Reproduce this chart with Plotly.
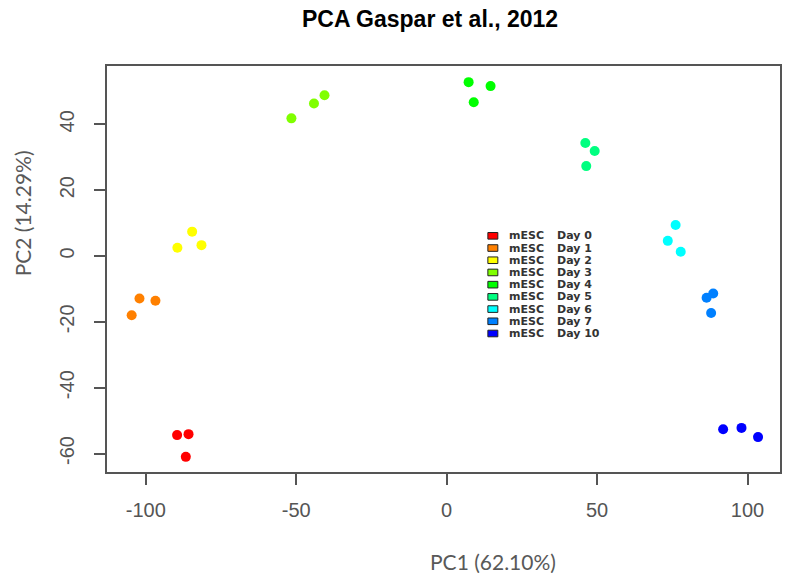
import plotly.graph_objects as go

# ---- data ----
days = ["Day 0", "Day 1", "Day 2", "Day 3", "Day 4", "Day 5", "Day 6", "Day 7", "Day 10"]
colors = ["#FF0000", "#FF8000", "#FFFF00", "#80FF00", "#00FF00",
          "#00FF80", "#00FFFF", "#0080FF", "#0000FF"]
pc1 = [[-89.6, -85.8, -86.7], [-104.7, -102.1, -96.8], [-89.5, -84.6, -81.5],
       [-51.6, -44.1, -40.6], [7.3, 14.6, 9.0], [46.1, 49.2, 46.4],
       [76.1, 73.5, 77.8], [86.4, 88.6, 87.9], [91.9, 98.0, 103.5]]
pc2 = [[-54.4, -54.1, -61.0], [-18.0, -12.9, -13.6], [2.5, 7.4, 3.3],
       [41.8, 46.3, 48.8], [52.8, 51.6, 46.7], [34.3, 31.9, 27.3],
       [9.4, 4.6, 1.3], [-12.7, -11.4, -17.3], [-52.6, -52.2, -55.0]]
x_ticks = [-100, -50, 0, 50, 100]
y_ticks = [-60, -40, -20, 0, 20, 40]
x_ticklabels = ["-100", "-50", "0", "50", "100"]
y_ticklabels = ["-60", "-40", "-20", "0", "20", "40"]
title = "PCA Gaspar et al., 2012"
x_title = "PC1 (62.10%)"
y_title = "PC2 (14.29%)"

# ---- layout geometry (pixels) ----
W, H = 787, 573
L, R, T, B = 107, 782, 66, 471.7
pw, ph = R - L, B - T


def px(x):
    return (x - L) / pw


def py(y):
    return (B - y) / ph


fig = go.Figure()
for d, c, xs, ys in zip(days, colors, pc1, pc2):
    fig.add_trace(go.Scatter(x=xs, y=ys, mode="markers", name="mESC " + d,
                             marker=dict(color=c, size=10, line=dict(width=0)),
                             showlegend=False))

shapes = []
annotations = []
# manual legend (R style)
for i, (d, c) in enumerate(zip(days, colors)):
    cy = 235.7 + 12.2 * i
    shapes.append(dict(type="rect", xref="paper", yref="paper",
                       x0=px(489), x1=px(499), y0=py(cy + 3.3), y1=py(cy - 3.3),
                       fillcolor=c, line=dict(color="#222222", width=1)))
    annotations.append(dict(xref="paper", yref="paper", x=px(508), y=py(cy),
                            xanchor="left", yanchor="middle", showarrow=False,
                            text="mESC", font=dict(family="DejaVu Sans", size=11,
                                                   color="#333333", weight="bold")))
    annotations.append(dict(xref="paper", yref="paper", x=px(556), y=py(cy),
                            xanchor="left", yanchor="middle", showarrow=False,
                            text=d, font=dict(family="DejaVu Sans", size=11,
                                              color="#333333", weight="bold")))

annotations.append(dict(xref="paper", yref="paper", x=px(431), y=py(19),
                        xanchor="center", yanchor="middle", showarrow=False,
                        text="<b>" + title + "</b>",
                        font=dict(family="Liberation Sans", size=23, color="#000000")))
annotations.append(dict(xref="paper", yref="paper", x=px(494), y=py(561),
                        xanchor="center", yanchor="middle", showarrow=False,
                        text=x_title,
                        font=dict(family="Lato", size=21, color="#595959")))
annotations.append(dict(xref="paper", yref="paper", x=px(22), y=py(213),
                        xanchor="center", yanchor="middle", showarrow=False,
                        text=y_title, textangle=-90,
                        font=dict(family="Lato", size=21, color="#595959")))

axis_common = dict(showgrid=False, zeroline=False, showline=True, mirror=True,
                   linecolor="#555555", linewidth=2, ticks="outside", ticklen=11,
                   tickwidth=1.5, tickcolor="#555555",
                   tickfont=dict(family="Liberation Sans", size=20, color="#555555"))

fig.update_layout(
    width=W, height=H,
    margin=dict(l=L, r=W - R, t=T, b=H - B),
    paper_bgcolor="white", plot_bgcolor="white",
    shapes=shapes, annotations=annotations,
    xaxis=dict(range=[-112.9, 110.8], tickvals=x_ticks, ticktext=x_ticklabels,
               ticklabelstandoff=8, **axis_common),
    yaxis=dict(range=[-65.6, 57.7], tickvals=y_ticks, ticktext=y_ticklabels,
               tickangle=-90, ticklabelstandoff=12, **axis_common),
    showlegend=False,
)

fig.write_html("out.html")
